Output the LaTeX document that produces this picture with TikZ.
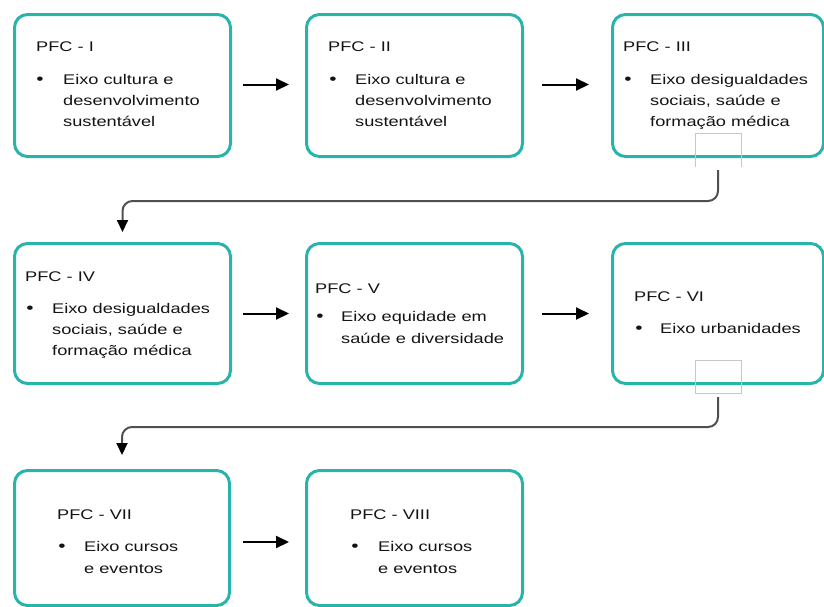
\documentclass[tikz,border=0pt]{standalone}
\usepackage{fontspec}
\setmainfont[FakeStretch=1.3]{Liberation Sans}
\usetikzlibrary{arrows.meta}
\definecolor{tealbox}{RGB}{40,180,170}
\definecolor{txt}{RGB}{20,20,20}
\definecolor{conncol}{RGB}{80,80,80}
\tikzset{
  pbox/.style={draw=tealbox, line width=3pt, rounded corners=13pt, fill=white, anchor=north west, inner sep=0pt},
  wbox/.style={pbox, minimum width=216pt, minimum height=142pt},
  nbox/.style={pbox, minimum width=211pt, minimum height=142pt},
  lbl/.style={anchor=base west, inner sep=0pt, text=txt, font=\fontsize{14}{21}\selectfont},
  bul/.style={anchor=base, inner sep=0pt, text=txt, font=\fontsize{16}{21}\selectfont},
  harr/.style={line width=2pt, -{Triangle[length=13pt,width=12pt]}},
  conn/.style={draw=conncol, line width=2pt, rounded corners=10pt, -{Triangle[length=12pt,width=11pt,color=black,fill=black]}},
  ghost/.style={draw=black!22, line width=0.6pt}
}
\begin{document}
\begin{tikzpicture}[x=1pt,y=-1pt]
\useasboundingbox (0,0) rectangle (824,606);
% boxes
\node[wbox] (b1) at (13,13) {};
\node[wbox] (b2) at (305,13) {};
\node[nbox] (b3) at (611,13) {};
\node[wbox, minimum height=140pt] (b4) at (13,242) {};
\node[wbox, minimum height=140pt] (b5) at (305,242) {};
\node[nbox, minimum height=140pt] (b6) at (611,242) {};
\node[wbox, minimum width=215pt, minimum height=135pt] (b7) at (13,469) {};
\node[wbox, minimum height=135pt] (b8) at (305,469) {};

% ghost marks
\draw[ghost] (695,167) -- (695,133) -- (741,133) -- (741,167);
\draw[ghost] (695,360) rectangle (741,393);

% box 1
\node[lbl] (t1) at (36,51) {PFC - I};
\node[bul] (u1) at (40,84) {•};
\node[lbl] (l1a) at (63,84) {Eixo cultura e};
\node[lbl] (l1b) at (63,105) {desenvolvimento};
\node[lbl] (l1c) at (63,126) {sustentável};
% box 2
\node[lbl] (t2) at (328,51) {PFC - II};
\node[bul] (u2) at (333,84) {•};
\node[lbl] (l2a) at (355,84) {Eixo cultura e};
\node[lbl] (l2b) at (355,105) {desenvolvimento};
\node[lbl] (l2c) at (355,126) {sustentável};
% box 3
\node[lbl] (t3) at (623,51) {PFC - III};
\node[bul] (u3) at (628,84) {•};
\node[lbl] (l3a) at (650,84) {Eixo desigualdades};
\node[lbl] (l3b) at (650,105) {sociais, saúde e};
\node[lbl] (l3c) at (650,126) {formação médica};
% box 4
\node[lbl] (t4) at (25,281) {PFC - IV};
\node[bul] (u4) at (30,313) {•};
\node[lbl] (l4a) at (52,313) {Eixo desigualdades};
\node[lbl] (l4b) at (52,334) {sociais, saúde e};
\node[lbl] (l4c) at (52,355) {formação médica};
% box 5
\node[lbl] (t5) at (315,293) {PFC - V};
\node[bul] (u5) at (320,321) {•};
\node[lbl] (l5a) at (341,321) {Eixo equidade em};
\node[lbl] (l5b) at (341,343) {saúde e diversidade};
% box 6
\node[lbl] (t6) at (634,301) {PFC - VI};
\node[bul] (u6) at (639,333) {•};
\node[lbl] (l6a) at (660,333) {Eixo urbanidades};
% box 7
\node[lbl] (t7) at (57,519) {PFC - VII};
\node[bul] (u7) at (62,551) {•};
\node[lbl] (l7a) at (84,551) {Eixo cursos};
\node[lbl] (l7b) at (84,573) {e eventos};
% box 8
\node[lbl] (t8) at (350,519) {PFC - VIII};
\node[bul] (u8) at (355,551) {•};
\node[lbl] (l8a) at (378,551) {Eixo cursos};
\node[lbl] (l8b) at (378,573) {e eventos};

% horizontal arrows
\draw[harr, shorten <=11pt, shorten >=16pt] ([yshift=1pt]b1.east) -- ([yshift=1pt]b2.west);
\draw[harr, shorten <=18pt, shorten >=22pt] ([yshift=1pt]b2.east) -- ([yshift=1pt]b3.west);
\draw[harr, shorten <=11pt, shorten >=16pt] (b4.east) -- (b5.west);
\draw[harr, shorten <=18pt, shorten >=22pt] (b5.east) -- (b6.west);
\draw[harr, shorten <=12pt, shorten >=16pt] ([yshift=-4pt]b7.east) -- ([yshift=-4pt]b8.west);

% connectors between rows
\draw[conn] ([yshift=-12pt]b3.south) -- ++(0,31) -| ([yshift=10pt]b4.north);
\draw[conn] ([yshift=-12pt]b6.south) -- ++(0,30) -| ([yshift=14pt]b7.north);
\end{tikzpicture}
\end{document}
